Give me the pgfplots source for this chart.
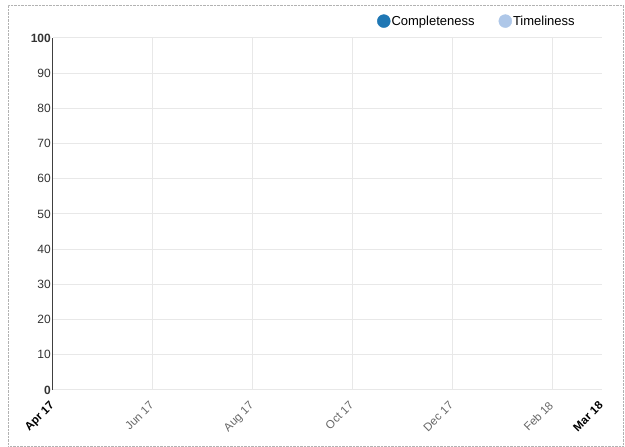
\documentclass[border=0pt]{standalone}
\usepackage{fontspec}
\setmainfont{Liberation Sans}
\usepackage{pgfplots}
\pgfplotsset{compat=1.18}
\definecolor{compl}{HTML}{1F77B4}
\definecolor{timel}{HTML}{AEC7E8}
\definecolor{gridc}{HTML}{E8E8E8}
\definecolor{labc}{HTML}{666666}
\definecolor{ylabc}{HTML}{333333}
\begin{document}
\begin{tikzpicture}[x=1pt,y=1pt]
\useasboundingbox (0,0) rectangle (625,447);
\draw[densely dotted, gray!60] (8,1) rectangle (623,442);
\begin{axis}[
  at={(53pt,57pt)}, anchor=south west, scale only axis,
  width=549pt, height=352pt,
  xmin=0, xmax=11, ymin=0, ymax=100,
  axis x line*=bottom, axis y line*=left,
  x axis line style={draw=none},
  y axis line style={-, draw=black!75, line width=1pt},
  major tick length=0pt,
  xtick={0,2,4,6,8,10},
  xticklabels={{\color{black}\bfseries Apr 17},Jun 17,Aug 17,Oct 17,Dec 17,Feb 18},
  extra x ticks={11},
  extra x tick labels={{\color{black}\bfseries Mar 18}},
  extra x tick style={grid=none},
  xticklabel style={xshift=-4pt, yshift=-9pt, rotate=45, anchor=north east, color=labc, font=\fontsize{11.5}{13}\selectfont, inner sep=1pt},
  ytick={0,10,...,100},
  yticklabels={{\bfseries 0},10,20,30,40,50,60,70,80,90,{\bfseries 100}},
  yticklabel style={color=ylabc, font=\fontsize{12}{14}\selectfont, inner sep=2pt},
  /pgf/number format/assume math mode=true,
  grid=major,
  major grid style={gridc, line width=1pt},
  legend columns=2,
  legend style={at={(0.59,1.048)}, anchor=west, draw=none, fill=none,
    font=\fontsize{13}{15}\selectfont, inner sep=0pt,
    nodes={inner sep=1pt},
    /tikz/every even column/.append style={column sep=23pt}},
]
\addlegendimage{legend image code/.code={\fill[compl] (0pt,0pt) circle (6.5pt);}}
\addlegendentry{Completeness}
\addlegendimage{legend image code/.code={\fill[timel] (0pt,0pt) circle (6.5pt);}}
\addlegendentry{Timeliness}
\end{axis}
\end{tikzpicture}
\end{document}
